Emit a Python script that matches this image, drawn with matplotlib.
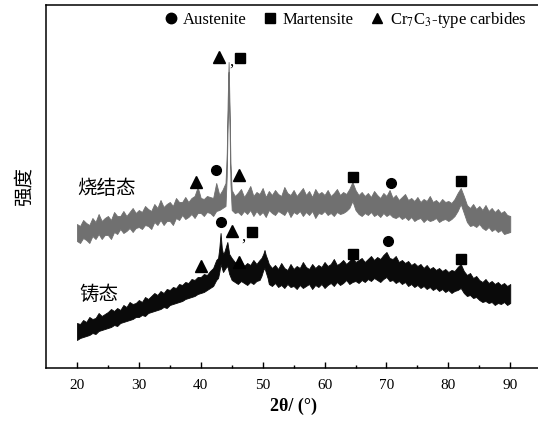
import numpy as np
import matplotlib
matplotlib.use('Agg')
import matplotlib.pyplot as plt
from matplotlib.lines import Line2D

plt.rcParams['font.family'] = ['Liberation Serif', 'DejaVu Serif']
plt.rcParams['mathtext.fontset'] = 'stix'

# ---- data (intensity in arbitrary units) ----
# sintered (烧结态): 20-44 step 0.5, main peak detail, 45-90 step 0.5
sint_peak_tt = [44.2, 44.35, 44.5, 44.65, 44.8]
sint_upper = [
    144, 142, 148, 145, 143, 150, 146, 154, 147, 150,
    152, 148, 156, 152, 152, 157, 152, 156, 160, 155,
    158, 156, 162, 159, 157, 164, 160, 168, 161, 164,
    166, 162, 170, 166, 166, 171, 166, 170, 172, 181,
    170, 169, 172, 171, 170, 185, 173, 178, 185,
    215, 268, 306, 262, 205,
    178, 172, 175, 179, 171, 176, 182, 172, 176, 174,
    180, 171, 177, 173, 178, 174, 172, 181, 175, 173,
    178, 172, 176, 180, 173, 177, 171, 179, 174, 176,
    173, 178, 172, 175, 179, 173, 176, 174, 179, 186,
    178, 173, 176, 172, 175, 171, 177, 173, 170, 175,
    172, 178, 170, 173, 168, 171, 174, 168, 170, 167,
    171, 166, 169, 167, 172, 166, 168, 165, 169, 166,
    167, 165, 169, 175, 180, 172, 163, 160, 164, 159,
    162, 158, 163, 157, 160, 156, 159, 155, 157, 153,
    152]
sint_lower = [
    127, 125, 130, 128, 125, 132, 129, 134, 129, 133,
    133, 129, 136, 134, 139, 135, 137, 140, 136, 140,
    141, 139, 143, 142, 139, 146, 143, 148, 143, 147,
    147, 143, 150, 148, 153, 149, 151, 154, 150, 155,
    155, 152, 156, 155, 152, 157, 158, 160, 162,
    192, 245, 296, 240, 184,
    158, 155, 156, 153, 157, 154, 158, 152, 157, 153,
    156, 151, 158, 155, 153, 157, 155, 153, 158, 151,
    156, 154, 157, 152, 156, 153, 157, 150, 155, 154,
    157, 153, 155, 152, 156, 154, 155, 157, 160, 167,
    158, 154, 152, 155, 153, 156, 152, 154, 151, 155,
    152, 154, 151, 150, 152, 149, 151, 148, 151, 147,
    149, 150, 146, 149, 147, 148, 150, 146, 148, 149,
    147, 149, 152, 157, 164, 155, 146, 142, 143, 141,
    144, 140, 138, 141, 137, 139, 136, 138, 134, 135,
    136]

# cast (铸态): 20-42.5, peak 1, 45-49.5, peak 2, 51-90
cast_peak1_tt = [42.8, 43.0, 43.2, 43.4, 43.6, 43.8, 44.0, 44.3, 44.6]
cast_peak2_tt = [49.8, 50.1, 50.3, 50.5, 50.8]
cast_upper = [
    45, 44, 48, 46, 51, 49, 50, 55, 52, 54,
    56, 59, 57, 60, 58, 63, 61, 66, 64, 65,
    68, 66, 71, 69, 72, 75, 73, 77, 75, 79,
    78, 81, 80, 84, 83, 86, 85, 89, 88, 91,
    91, 94, 93, 97, 100, 108,
    110, 120, 135, 120, 114, 116, 120, 126, 114,
    110, 106, 104, 107, 102, 105, 103, 108, 104, 108,
    110, 114, 118, 113, 108,
    104, 100, 103, 99, 105, 100, 98, 104, 99, 102,
    100, 106, 101, 99, 104, 100, 103, 101, 106, 102,
    104, 109, 103, 105, 108, 104, 107, 111, 106, 108,
    110, 106, 109, 112, 108, 111, 109, 113, 116, 110,
    109, 112, 106, 108, 105, 107, 103, 105, 102, 104,
    100, 103, 99, 101, 98, 100, 97, 99, 96, 98,
    97, 101, 104, 97, 93, 95, 90, 92, 88, 86,
    89, 85, 87, 84, 86, 83, 85, 82, 84]
cast_lower = [
    28, 30, 31, 32, 33, 35, 34, 37, 38, 39,
    40, 41, 43, 42, 45, 46, 47, 48, 49, 51,
    51, 53, 52, 55, 56, 57, 58, 59, 61, 60,
    63, 64, 65, 66, 67, 69, 70, 71, 72, 74,
    75, 76, 78, 80, 82, 88,
    90, 96, 104, 100, 96, 98, 100, 102, 94,
    88, 86, 84, 87, 85, 83, 86, 84, 87, 88,
    92, 98, 100, 96, 90,
    84, 82, 85, 81, 83, 80, 84, 81, 82, 79,
    83, 80, 82, 84, 79, 83, 81, 84, 80, 83,
    85, 82, 86, 83, 85, 88, 84, 86, 87, 85,
    88, 86, 89, 87, 90, 88, 86, 89, 91, 87,
    88, 85, 87, 84, 86, 82, 84, 81, 83, 80,
    82, 79, 81, 78, 80, 77, 79, 76, 78, 75,
    77, 78, 80, 75, 72, 73, 70, 71, 68, 66,
    67, 65, 66, 63, 65, 64, 66, 63, 65]

# phase markers (2theta, intensity)
austenite_tt = [42.5, 70.8, 43.2, 70.2]
austenite_i = [198, 185, 146, 127]
martensite_tt = [46.4, 64.6, 82.1, 48.3, 64.6, 82.1]
martensite_i = [310, 191, 187, 136, 114, 109]
carbide_tt = [39.3, 43.0, 46.2, 40.1, 45.0, 46.2]
carbide_i = [186, 311, 193, 102, 137, 106]
comma_tt = [44.9, 46.9]
comma_i = [306, 131]

sint_tt = np.r_[np.arange(20, 44.01, 0.5), sint_peak_tt, np.arange(45, 90.01, 0.5)]
cast_tt = np.r_[np.arange(20, 42.51, 0.5), cast_peak1_tt, np.arange(45, 49.51, 0.5),
                cast_peak2_tt, np.arange(51, 90.01, 0.5)]

fig = plt.figure(figsize=(5.38, 4.22), dpi=100)
ax = fig.add_axes([46 / 538, 54 / 422, 495.2 / 538, 363 / 422])

ax.fill_between(sint_tt, sint_lower, sint_upper, color='#707070', lw=0.6, edgecolor='#707070')
ax.fill_between(cast_tt, cast_lower, cast_upper, color='#0a0a0a', lw=0.6, edgecolor='#0a0a0a')

ax.plot(austenite_tt, austenite_i, 'o', color='black', ms=7, ls='none')
ax.plot(martensite_tt, martensite_i, 's', color='black', ms=6.5, ls='none')
ax.plot(carbide_tt, carbide_i, '^', color='black', ms=9, ls='none')
for t, i in zip(comma_tt, comma_i):
    ax.text(t, i, ',', fontsize=12, ha='center', va='center')

ax.text(24.7, 179, '烧结态', family=['Noto Sans CJK SC'], fontsize=14, ha='center', va='center')
ax.text(23.6, 73, '铸态', family=['Noto Sans CJK SC'], fontsize=14, ha='center', va='center')

ax.set_xlim(15, 95)
ax.set_ylim(0, 363)
ax.set_xticks(np.arange(20, 91, 10))
ax.set_xticks(np.arange(25, 91, 10), minor=True)
ax.set_yticks([])
ax.tick_params(axis='x', which='major', direction='in', length=4.5, width=1, labelsize=11, pad=8)
ax.tick_params(axis='x', which='minor', direction='in', length=2.5, width=1)
for s in ax.spines.values():
    s.set_linewidth(1.1)

ax.set_xlabel('2θ/ (°)', fontsize=13, fontweight='bold', labelpad=4)
ax.set_ylabel('强度', family=['Noto Sans CJK SC'], fontsize=14, labelpad=8)

handles = [
    Line2D([], [], marker='o', color='black', ls='none', ms=7.5),
    Line2D([], [], marker='s', color='black', ls='none', ms=7),
    Line2D([], [], marker='^', color='black', ls='none', ms=7.5),
]
ax.legend(handles, ['Austenite', 'Martensite', 'Cr$_7$C$_3$-type carbides'],
          loc='upper right', bbox_to_anchor=(0.99, 1.015), ncol=3, frameon=False,
          fontsize=12, handletextpad=0.25, columnspacing=0.9, handlelength=1.0,
          borderaxespad=0.2)

fig.savefig('out.png', dpi=100)
